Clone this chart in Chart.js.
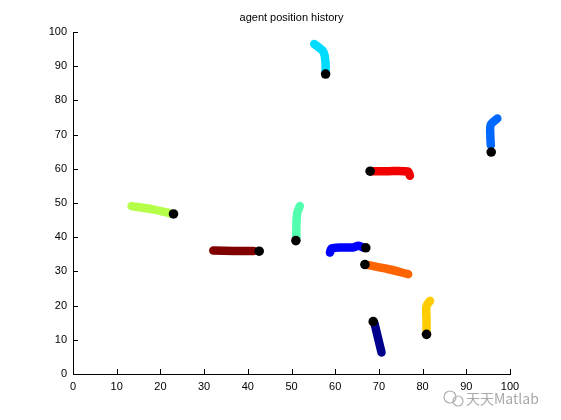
<!DOCTYPE html>
<html>
<head>
<meta charset="utf-8">
<script src="https://cdn.jsdelivr.net/npm/chart.js@4.4.0/dist/chart.umd.min.js"></script>
<style>
  body { margin: 0; background: #fff; }
  #wrap { width: 561px; height: 420px; }
</style>
</head>
<body>
<div id="wrap"><canvas id="myChart" width="561" height="420"></canvas></div>
<script>
// trail of each agent, oldest point first, last point = current position
const agentCyan   = [[55.2, 96.5], [57.3, 94.2], [57.8, 90.8], [57.8, 88.4]];
const agentAzure  = [[97.1, 74.7], [95.6, 72.9], [95.5, 69.5], [95.6, 66.9]];
const agentRed    = [[77.1, 58.0], [76.6, 59.2], [72.0, 59.3], [68.5, 59.3]];
const agentLime   = [[13.4, 49.1], [18.0, 48.2], [22.5, 46.9]];
const agentMaroon = [[32.1, 36.1], [37.0, 36.0], [41.3, 36.0]];
const agentMint   = [[51.9, 49.1], [51.3, 47.0], [51.1, 42.5], [51.1, 39.5]];
const agentBlue   = [[58.8, 35.5], [59.2, 36.7], [61.5, 37.0], [64.1, 37.0], [65.3, 37.5], [66.6, 36.9]];
const agentOrange = [[76.7, 29.2], [72.0, 30.7], [67.3, 31.9]];
const agentNavy   = [[70.6, 6.3], [69.8, 10.5], [69.0, 14.8]];
const agentGold   = [[81.7, 21.4], [80.9, 19.9], [80.9, 16.0], [80.9, 12.3]];

const currentPos = [[57.8, 87.7], [95.7, 64.9], [68.0, 59.3], [23.0, 46.8], [42.6, 35.9],
                    [51.0, 39.0], [67.0, 36.9], [66.8, 32.0], [68.7, 15.3], [80.9, 11.6]];

const trails = [agentCyan, agentAzure, agentRed, agentLime, agentMaroon,
                agentMint, agentBlue, agentOrange, agentNavy, agentGold];
const trailColors = ['#00dcff', '#0068ff', '#f20000', '#b6ff48', '#800000',
                     '#52ffae', '#0000ff', '#ff6400', '#00008c', '#ffcc00'];

const xTicks = [0, 10, 20, 30, 40, 50, 60, 70, 80, 90, 100];
const yTicks = [0, 10, 20, 30, 40, 50, 60, 70, 80, 90, 100];

const toXY = arr => arr.map(p => ({x: p[0], y: p[1]}));

const datasets = trails.map((t, i) => ({
  data: toXY(t),
  showLine: true,
  borderColor: trailColors[i],
  borderWidth: 8.5,
  borderCapStyle: 'round',
  borderJoinStyle: 'round',
  pointRadius: 0,
  tension: 0.3,
  order: 1
}));
// current positions, drawn on top of the trails
datasets.push({
  data: toXY(currentPos),
  showLine: false,
  pointRadius: 4.8,
  pointBackgroundColor: '#000',
  pointBorderWidth: 0,
  order: 0
});

// matlab style: inward ticks, title, watermark
const matlabBits = {
  id: 'matlabBits',
  afterDraw(chart) {
    const c = chart.ctx, a = chart.chartArea;
    const sx = chart.scales.x, sy = chart.scales.y;
    c.save();
    c.strokeStyle = '#000';
    c.lineWidth = 1;
    c.beginPath();
    xTicks.forEach(v => {
      const px = Math.round(sx.getPixelForValue(v)) + 0.5;
      c.moveTo(px, a.bottom);
      c.lineTo(px, a.bottom - 5);
    });
    yTicks.forEach(v => {
      const py = Math.round(sy.getPixelForValue(v)) + 0.5;
      c.moveTo(a.left, py);
      c.lineTo(a.left + 5, py);
    });
    c.stroke();

    c.fillStyle = '#000';
    c.font = '11px "Liberation Sans", Arial, sans-serif';
    c.textAlign = 'center';
    c.textBaseline = 'middle';
    c.fillText('agent position history', (a.left + a.right) / 2, 18);

    // watermark
    c.strokeStyle = '#b0b0b0';
    c.lineWidth = 1.2;
    c.beginPath();
    c.arc(450, 397, 6, 0, Math.PI * 2);
    c.stroke();
    c.beginPath();
    c.arc(458, 401, 5, 0, Math.PI * 2);
    c.stroke();
    c.fillStyle = '#a8a8a8';
    c.font = '14px "Noto Sans CJK SC", "Liberation Sans", sans-serif';
    c.textAlign = 'left';
    c.fillText('天天Matlab', 466, 399);
    c.restore();
  }
};

const ctx = document.getElementById('myChart');
new Chart(ctx, {
  type: 'scatter',
  data: { datasets: datasets },
  options: {
    responsive: false,
    animation: false,
    layout: { padding: { top: 32, right: 51, left: 0, bottom: 0 } },
    plugins: { legend: { display: false }, tooltip: { enabled: false } },
    scales: {
      x: {
        type: 'linear', min: 0, max: 100,
        afterFit: s => { s.height = 46; },
        afterBuildTicks: s => { s.ticks = xTicks.map(v => ({value: v})); },
        grid: { display: false, drawTicks: false },
        border: { display: true, color: '#000', width: 1 },
        ticks: { padding: 6, color: '#000', maxRotation: 0,
                 font: { family: '"Liberation Sans", Arial, sans-serif', size: 11 } }
      },
      y: {
        type: 'linear', min: 0, max: 100,
        afterFit: s => { s.width = 73; },
        afterBuildTicks: s => { s.ticks = yTicks.map(v => ({value: v})); },
        grid: { display: false, drawTicks: false },
        border: { display: true, color: '#000', width: 1 },
        ticks: { padding: 6, color: '#000',
                 font: { family: '"Liberation Sans", Arial, sans-serif', size: 11 } }
      }
    }
  },
  plugins: [matlabBits]
});
</script>
</body>
</html>
